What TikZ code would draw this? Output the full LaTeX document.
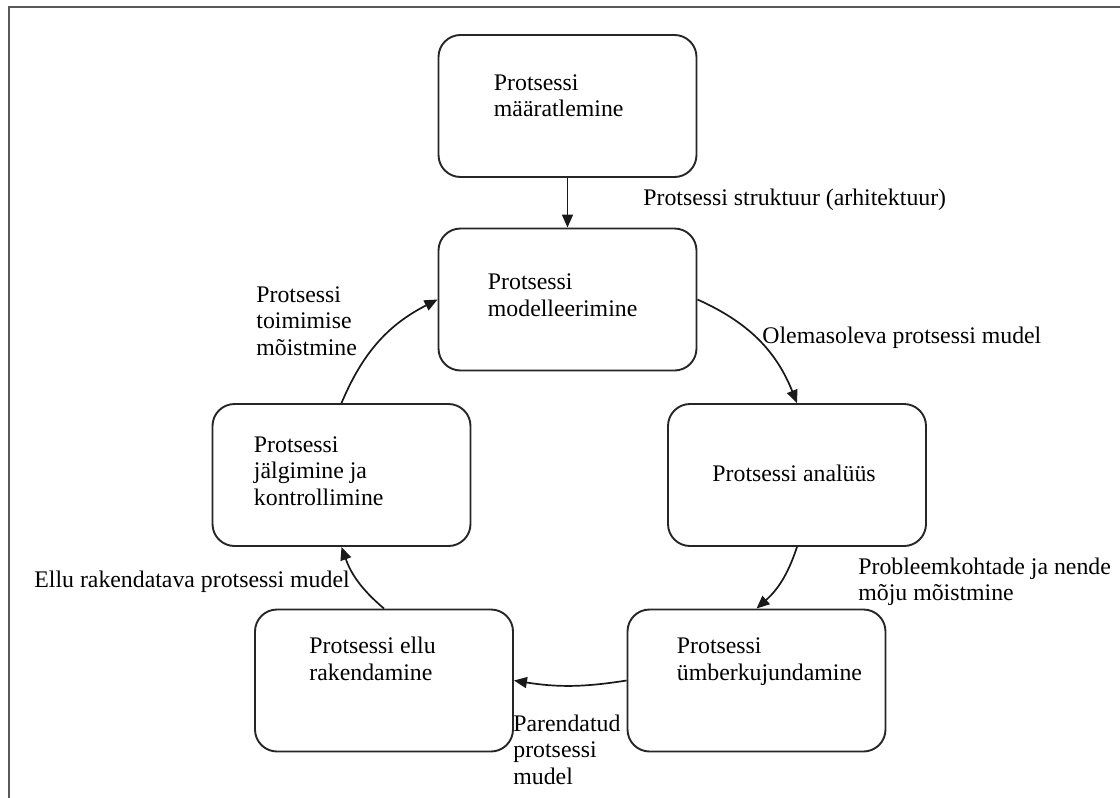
\documentclass[tikz,border=0pt]{standalone}
\usepackage{fontspec}
\setmainfont{Liberation Serif}
\usetikzlibrary{arrows.meta}
\newcommand{\mlines}[1]{\begin{tabular}[t]{@{}l@{}}#1\end{tabular}}
\begin{document}
\begin{tikzpicture}[x=0.5pt,y=-0.5pt,
  box/.style={draw=black!85, line width=0.95pt, rounded corners=11pt, minimum width=129pt, minimum height=71pt, inner sep=0pt},
  txt/.style={anchor=base west, inner sep=0pt, font=\fontsize{11.9}{13.3}\selectfont},
  flow/.style={draw=black!90, line width=0.85pt, -{Triangle[length=6.5pt,width=5.5pt]}},
  frame/.style={draw=black!65, line width=1.1pt}]
\useasboundingbox (0,0) rectangle (1120,798);
\draw[frame] (9,798) -- (9,7) -- (1120,7);

\node[box] (b1) at (567.5,106) {};
\node[box] (b2) at (567.5,299.5) {};
\node[box] (b3) at (797,475) {};
\node[box] (b4) at (756.5,680.5) {};
\node[box] (b5) at (384,680.5) {};
\node[box] (b6) at (341.5,475) {};

\node[txt] (t1) at ([shift={(56,56)}]b1.north west) {\mlines{Protsessi\\määratlemine}};
\node[txt] (t2) at ([shift={(50,62)}]b2.north west) {\mlines{Protsessi\\modelleerimine}};
\node[txt] (t3) at ([shift={(45,78)}]b3.north west) {Protsessi analüüs};
\node[txt] (t4) at ([shift={(50,45)}]b4.north west) {\mlines{Protsessi\\ümberkujundamine}};
\node[txt] (t5) at ([shift={(55,45)}]b5.north west) {\mlines{Protsessi ellu\\rakendamine}};
\node[txt] (t6) at ([shift={(42,49)}]b6.north west) {\mlines{Protsessi\\jälgimine ja\\kontrollimine}};

\draw[flow] (b1.south) -- (b2.north);
\draw[flow] (b2.east) to[bend left=22] (b3.north);
\draw[flow] (b3.south) to[bend left=15] (b4.north);
\draw[flow] (b4.west) to[bend left=9] (b5.east);
\draw[flow] (b5.north) to[bend left=15] (b6.south);
\draw[flow] (b6.north) to[bend left=20] (b2.west);

\node[txt] (l1) at (643,205) {Protsessi struktuur (arhitektuur)};
\node[txt] (l2) at (762,343) {Olemasoleva protsessi mudel};
\node[txt] (l3) at (256,302) {\mlines{Protsessi\\toimimise\\mõistmine}};
\node[txt] (l4) at (858,574) {\mlines{Probleemkohtade ja nende\\mõju mõistmine}};
\node[txt] (l5) at (34,587) {Ellu rakendatava protsessi mudel};
\node[txt] (l6) at (513,731) {\mlines{Parendatud\\protsessi\\mudel}};
\end{tikzpicture}
\end{document}
